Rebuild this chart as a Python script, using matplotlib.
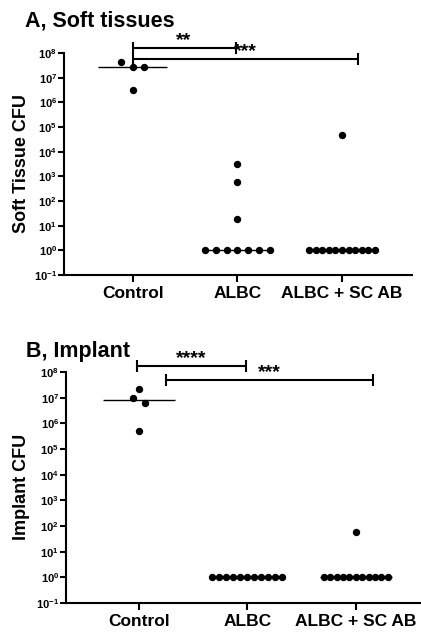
import numpy as np
import matplotlib
matplotlib.use('Agg')
import matplotlib.pyplot as plt
from matplotlib.ticker import FixedLocator, FixedFormatter, NullLocator

plt.rcParams['font.family'] = ['Liberation Sans', 'DejaVu Sans']
plt.rcParams['font.weight'] = 'bold'
plt.rcParams['mathtext.fontset'] = 'custom'
plt.rcParams['mathtext.rm'] = 'Liberation Sans:bold'
plt.rcParams['mathtext.it'] = 'Liberation Sans:bold'
plt.rcParams['mathtext.bf'] = 'Liberation Sans:bold'

# ---------------- data ----------------
categories = ['Control', 'ALBC', 'ALBC + SC AB']

soft_control = [2.6e7, 4.2e7, 2.7e7, 3.1e6]
soft_albc = [3.1e3, 6.0e2, 1.9e1, 1, 1, 1, 1, 1, 1, 1]
soft_albc_sc = [4.7e4, 1, 1, 1, 1, 1, 1, 1, 1, 1, 1, 1]

implant_control = [2.1e7, 1.0e7, 6.2e6, 5.0e5]
implant_albc = [1, 1, 1, 1, 1, 1, 1, 1, 1, 1, 1]
implant_albc_sc = [58, 1, 1, 1, 1, 1, 1, 1, 1, 1, 1, 1]

ytick_exponents = [-1, 0, 1, 2, 3, 4, 5, 6, 7, 8]

# significance comparisons: (start group, end group, height, label)
soft_sig = [(0, 0.99, 1.55e8, '**'), (0, 2.15, 5.6e7, '***')]
soft_sig_text_x = [0.48, 1.08]
implant_sig = [(-0.02, 0.99, 1.66e8, '****'), (0.25, 2.16, 4.9e7, '***')]
implant_sig_text_x = [0.48, 1.2]

# ---------------- layout / style ----------------
W, H = 421, 632
fig = plt.figure(figsize=(W / 100, H / 100), dpi=100)


def swarm_offsets(values, spacing_px, px_per_unit, px_per_dec, thr=16):
    placed = []
    offs = []
    cands = [0]
    for i in range(1, 40):
        cands += [-i, i]
    for v in values:
        lv = np.log10(v)
        chosen = 0
        for c in cands:
            ok = True
            for (pl, pc) in placed:
                if pc == c and abs(pl - lv) * px_per_dec < thr:
                    ok = False
                    break
            if ok:
                chosen = c
                break
        placed.append((lv, chosen))
        offs.append(chosen * spacing_px / px_per_unit)
    return np.array(offs)


def make_panel(rect, xlim, groups, spacings, ylabel, ylabel_xy, title, title_xy,
               sigs, sig_text_x):
    ax = fig.add_axes(rect)
    ax.set_yscale('log')
    ax.set_ylim(0.1, 1e8)
    ax.set_xlim(*xlim)
    for s in ['top', 'right']:
        ax.spines[s].set_visible(False)
    for s in ['left', 'bottom']:
        ax.spines[s].set_linewidth(1.5)
    ax.yaxis.set_major_locator(FixedLocator([10.0 ** e for e in ytick_exponents]))
    ax.yaxis.set_major_formatter(FixedFormatter(
        [r'$10^{%d}$' % e for e in ytick_exponents]))
    ax.yaxis.set_minor_locator(NullLocator())
    ax.set_xticks(range(len(categories)))
    ax.set_xticklabels(categories, fontsize=12.5, fontweight='bold')
    ax.tick_params(axis='y', length=4, width=1.5, labelsize=8, pad=1)
    ax.tick_params(axis='x', length=5, width=1.5, pad=3)

    bbox = ax.get_position()
    ax_w_px = bbox.width * W
    ax_h_px = bbox.height * H
    px_per_unit = ax_w_px / (xlim[1] - xlim[0])
    px_per_dec = ax_h_px / 9.0

    for i, (vals, sp) in enumerate(zip(groups, spacings)):
        offs = swarm_offsets(vals, sp, px_per_unit, px_per_dec)
        med = np.median(vals)
        ax.hlines(med, i - 0.33, i + 0.33, colors='black', lw=1.0, zorder=2)
        ax.plot(i + offs, vals, 'o', color='black', ms=4.3, mec='black',
                zorder=3, clip_on=False)

    cap = 10 ** (6.0 / px_per_dec)
    for (x0, x1, yb, lab), tx in zip(sigs, sig_text_x):
        ax.plot([x0, x1], [yb, yb], color='black', lw=1.5, clip_on=False,
                solid_capstyle='butt')
        for xx in (x0, x1):
            ax.plot([xx, xx], [yb / cap, yb * cap], color='black', lw=1.5,
                    clip_on=False, solid_capstyle='butt')
        ax.text(tx, yb * 10 ** (3.0 / px_per_dec), lab, ha='center',
                va='baseline', fontsize=14, fontweight='bold')

    fig.text(ylabel_xy[0] / W, 1 - ylabel_xy[1] / H, ylabel, rotation=90,
             ha='center', va='center', fontsize=13, fontweight='bold')
    fig.text(title_xy[0] / W, 1 - title_xy[1] / H, title, ha='left',
             va='baseline', fontsize=15.5, fontweight='bold')
    return ax


# Panel A
make_panel([64 / W, 1 - 275 / H, (412 - 64) / W, (275 - 53) / H],
           (-0.66, 2.67),
           [soft_control, soft_albc, soft_albc_sc],
           [11.5, 10.7, 6.6],
           'Soft Tissue CFU', (22, 164), 'A, Soft tissues', (25, 27),
           soft_sig, soft_sig_text_x)

# Panel B
make_panel([66 / W, 1 - 603 / H, (421 - 66) / W, (603 - 372) / H],
           (-0.67, 2.6),
           [implant_control, implant_albc, implant_albc_sc],
           [6.0, 7.0, 6.4],
           'Implant CFU', (22, 487), 'B, Implant', (26, 357),
           implant_sig, implant_sig_text_x)

fig.savefig('out.png', dpi=100)
